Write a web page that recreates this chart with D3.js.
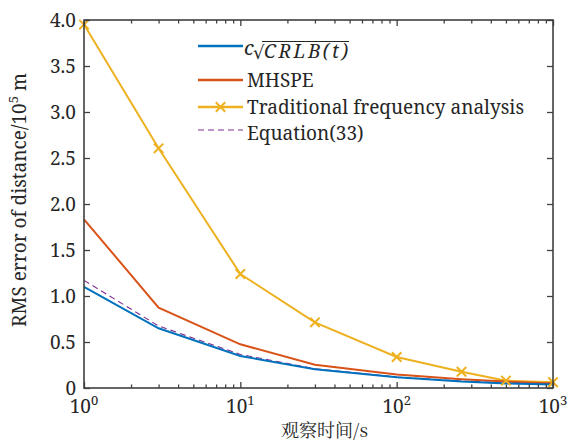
<!DOCTYPE html>
<html>
<head>
<meta charset="utf-8">
<script src="https://cdn.jsdelivr.net/npm/d3@7"></script>
<style>
  body { margin: 0; background: #fff; }
  svg { display: block; }
</style>
</head>
<body>
<svg id="chart" width="569" height="441"></svg>
<script>
// ---- data ----
const times = [1, 3, 10, 30, 100, 260, 500, 1000];
const crlb  = [1.10, 0.649, 0.348, 0.203, 0.116, 0.07, 0.05, 0.038];
const mhspe = [1.834, 0.873, 0.475, 0.253, 0.146, 0.095, 0.07, 0.05];
const trad  = [3.95, 2.605, 1.239, 0.714, 0.337, 0.177, 0.08, 0.062];
const eq33  = [1.17, 0.674, 0.365, 0.21, 0.12, 0.075, 0.055, 0.042];
const yTicks = [0, 0.5, 1.0, 1.5, 2.0, 2.5, 3.0, 3.5, 4.0];
const xTicks = [1, 10, 100, 1000];
const xTickExp = ["0", "1", "2", "3"];
const legendLabels = ["MHSPE", "Traditional frequency analysis", "Equation(33)"];
const xLabel = "观察时间/s";

const SERIF = "'Noto Serif', 'DejaVu Serif', serif";
const svg = d3.select("#chart");
const L = 84, R = 553, T = 20, B = 388;
const x = d3.scaleLog().domain([1, 1000]).range([L, R]);
const y = d3.scaleLinear().domain([0, 4]).range([B, T]);
const axisColor = "#404040";
const textColor = "#262626";

const colors = { blue: "#0072BD", red: "#D95319", yellow: "#EDB120", purple: "#7E2F8E" };

// minor ticks
const minor = [];
for (let d = 1; d < 1000; d *= 10) for (let k = 2; k <= 9; k++) minor.push(d * k);

function styleAxis(g) {
  g.select(".domain").remove();
  g.selectAll("line").attr("stroke", axisColor).attr("stroke-width", 1.3);
}
function txt(sel) {
  return sel.style("font-family", SERIF).attr("fill", textColor);
}

// series
const line = d3.line().x((d, i) => x(times[i])).y(d => y(d));
svg.append("path").datum(trad).attr("d", line).attr("fill", "none")
  .attr("stroke", colors.yellow).attr("stroke-width", 2);
svg.append("path").datum(mhspe).attr("d", line).attr("fill", "none")
  .attr("stroke", colors.red).attr("stroke-width", 2);
svg.append("path").datum(eq33).attr("d", line).attr("fill", "none")
  .attr("stroke", colors.purple).attr("stroke-width", 1.1).attr("stroke-dasharray", "6,4");
svg.append("path").datum(crlb).attr("d", line).attr("fill", "none")
  .attr("stroke", colors.blue).attr("stroke-width", 2);

// markers
const cross = d3.symbol().type(d3.symbolX).size(60);
svg.selectAll("path.mk").data(trad).enter().append("path").attr("class", "mk")
  .attr("d", cross)
  .attr("transform", (d, i) => `translate(${x(times[i])},${y(d)})`)
  .attr("fill", "none").attr("stroke", colors.yellow).attr("stroke-width", 2);

// axes
const gB = svg.append("g").attr("transform", `translate(0,${B})`)
  .call(d3.axisBottom(x).tickValues(xTicks).tickSizeInner(-6).tickSizeOuter(0).tickFormat(""));
styleAxis(gB);
const gBm = svg.append("g").attr("transform", `translate(0,${B})`)
  .call(d3.axisBottom(x).tickValues(minor).tickSizeInner(-3.5).tickSizeOuter(0).tickFormat(""));
styleAxis(gBm);
const gT = svg.append("g").attr("transform", `translate(0,${T})`)
  .call(d3.axisTop(x).tickValues(xTicks).tickSizeInner(-6).tickSizeOuter(0).tickFormat(""));
styleAxis(gT);
const gTm = svg.append("g").attr("transform", `translate(0,${T})`)
  .call(d3.axisTop(x).tickValues(minor).tickSizeInner(-3.5).tickSizeOuter(0).tickFormat(""));
styleAxis(gTm);
const gL = svg.append("g").attr("transform", `translate(${L},0)`)
  .call(d3.axisLeft(y).tickValues(yTicks).tickSizeInner(-6).tickSizeOuter(0).tickFormat(""));
styleAxis(gL);
const gR = svg.append("g").attr("transform", `translate(${R},0)`)
  .call(d3.axisRight(y).tickValues(yTicks).tickSizeInner(-6).tickSizeOuter(0).tickFormat(""));
styleAxis(gR);

// box
svg.append("rect").attr("x", L).attr("y", T).attr("width", R - L).attr("height", B - T)
  .attr("fill", "none").attr("stroke", axisColor).attr("stroke-width", 1.6);

// y tick labels
txt(svg.selectAll("text.yt").data(yTicks).enter().append("text").attr("class", "yt")
  .attr("x", L - 8).attr("y", d => y(d) + 6.5).attr("text-anchor", "end")
  .attr("font-size", 19)
  .text(d => d === 0 ? "0" : d.toFixed(1)));

// x tick labels
xTicks.forEach((v, i) => {
  const t = txt(svg.append("text").attr("x", x(v)).attr("y", 413)
    .attr("text-anchor", "middle").attr("font-size", 19));
  t.append("tspan").text("10");
  t.append("tspan").attr("dy", -8).attr("font-size", 13).text(xTickExp[i]);
});

// x label
svg.append("text").attr("x", (L + R) / 2 + 6).attr("y", 437).attr("text-anchor", "middle")
  .attr("font-size", 18).attr("fill", textColor)
  .style("font-family", "'Noto Serif CJK SC', 'Noto Sans CJK SC', sans-serif")
  .text(xLabel);

// y label
const yl = txt(svg.append("text").attr("transform", `translate(26,${(T + B) / 2 - 4}) rotate(-90)`)
  .attr("text-anchor", "middle").attr("font-size", 19));
yl.append("tspan").text("RMS error of distance/10");
yl.append("tspan").attr("dy", -8).attr("font-size", 13).text("5");
yl.append("tspan").attr("dy", 8).text(" m");

// legend
const lx1 = 198, lx2 = 243, tx = 247;
const legendY = [46, 80, 107, 130];
const legendStyles = [
  { c: colors.blue, w: 2.4, dash: null },
  { c: colors.red, w: 2.4, dash: null },
  { c: colors.yellow, w: 2.4, dash: null },
  { c: colors.purple, w: 1.1, dash: "6,4" }
];
legendStyles.forEach((s, i) => {
  const ln = svg.append("line").attr("x1", lx1).attr("x2", lx2)
    .attr("y1", legendY[i]).attr("y2", legendY[i])
    .attr("stroke", s.c).attr("stroke-width", s.w);
  if (s.dash) ln.attr("stroke-dasharray", s.dash);
});
svg.append("path").attr("d", cross).attr("transform", `translate(${(lx1 + lx2) / 2},${legendY[2]})`)
  .attr("fill", "none").attr("stroke", colors.yellow).attr("stroke-width", 2);

// first entry: c sqrt(CRLB(t))
txt(svg.append("text").attr("x", 244).attr("y", 55).attr("font-size", 20)
  .attr("font-style", "italic").text("c"));
txt(svg.append("text").attr("x", 253).attr("y", 59).attr("font-size", 18).text("√"));
txt(svg.append("text").attr("x", 264).attr("y", 58).attr("font-size", 19)
  .attr("font-style", "italic").attr("textLength", 84).attr("lengthAdjust", "spacing")
  .text("CRLB(t)"));
svg.append("line").attr("x1", 262).attr("x2", 349).attr("y1", 41.5).attr("y2", 41.5)
  .attr("stroke", textColor).attr("stroke-width", 1);

const legendTextY = [87, 114, 140];
legendLabels.forEach((lab, i) => {
  txt(svg.append("text").attr("x", tx).attr("y", legendTextY[i]).attr("font-size", 19).text(lab));
});
</script>
</body>
</html>
